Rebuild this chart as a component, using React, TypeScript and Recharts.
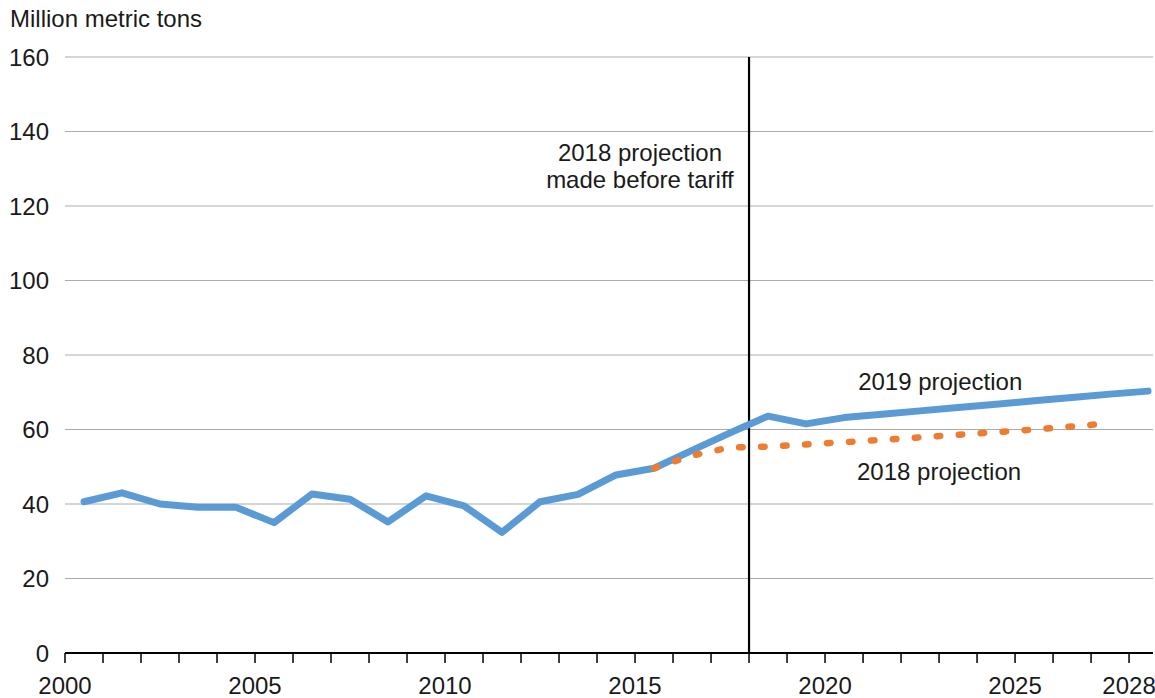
import {
  LineChart,
  Line,
  XAxis,
  YAxis,
  CartesianGrid,
  ReferenceLine,
  ReferenceDot,
} from "recharts";

const YEARS = [
  2000, 2001, 2002, 2003, 2004, 2005, 2006, 2007, 2008, 2009, 2010, 2011, 2012,
  2013, 2014, 2015, 2016, 2017, 2018, 2019, 2020, 2021, 2022, 2023, 2024, 2025,
  2026, 2027, 2028,
];

// 2019 projection (history + projection)
const PROJ_2019 = [
  40.6, 43.0, 40.0, 39.1, 39.1, 35.0, 42.7, 41.3, 35.2, 42.2, 39.5, 32.4, 40.6,
  42.6, 47.8, 49.6, 54.4, 59.1, 63.6, 61.5, 63.2, 64.1, 65.0, 65.9, 66.8, 67.7,
  68.6, 69.5, 70.3,
];

// 2018 projection made before tariff
const PROJ_2018 = [
  null, null, null, null, null, null, null, null, null, null, null, null, null,
  null, null, 49.6, 53.0, 55.2, 55.4, 56.0, 56.6, 57.2, 57.9, 58.6, 59.3, 60.0,
  60.8, 61.7, null,
];

const X_TICKS = YEARS;
const X_LABELS = [2000, 2005, 2010, 2015, 2020, 2025, 2028];
const Y_TICKS = [0, 20, 40, 60, 80, 100, 120, 140, 160];

const FONT = '"Liberation Sans", Arial, Helvetica, sans-serif';
const TEXT = "#1a1a1a";
const FS = 24;

// points sit in the middle of each year slot
const chartData = YEARS.map((year, i) => ({
  x: year + 0.5,
  p2019: PROJ_2019[i],
  p2018: PROJ_2018[i],
}));

function textLabel(lines: string[], lineHeight = 27) {
  return (props: any) => {
    const vb = props.viewBox || {};
    const cx = vb.x + (vb.width || 0) / 2;
    const cy = vb.y + (vb.height || 0) / 2;
    const top = cy - ((lines.length - 1) * lineHeight) / 2;
    return (
      <text
        x={cx}
        y={top}
        textAnchor="middle"
        dominantBaseline="central"
        fontFamily={FONT}
        fontSize={FS}
        fill={TEXT}
      >
        {lines.map((l, i) => (
          <tspan key={i} x={cx} y={top + i * lineHeight}>
            {l}
          </tspan>
        ))}
      </text>
    );
  };
}

export default function App() {
  return (
    <div
      style={{
        position: "absolute",
        left: 0,
        top: 0,
        width: 1155,
        height: 698,
        background: "#fff",
        fontFamily: FONT,
      }}
    >
      <div
        style={{
          position: "absolute",
          left: 10,
          top: 5,
          fontSize: FS,
          color: TEXT,
          lineHeight: "28px",
        }}
      >
        Million metric tons
      </div>
      <LineChart
        width={1155}
        height={698}
        data={chartData}
        margin={{ top: 57, right: 2, left: 0, bottom: 0 }}
      >
        <CartesianGrid vertical={false} stroke="#ababab" strokeWidth={1} />
        <XAxis
          dataKey="x"
          type="number"
          domain={[2000, 2028.63]}
          ticks={X_TICKS}
          interval={0}
          allowDataOverflow
          height={45}
          axisLine={{ stroke: "#000", strokeWidth: 2 }}
          tickLine={{ stroke: "#000", strokeWidth: 1.5 }}
          tickSize={10}
          tickMargin={14}
          tickFormatter={(v: number) => (X_LABELS.includes(v) ? String(v) : "")}
          tick={{ fill: TEXT, fontSize: FS, fontFamily: FONT }}
        />
        <YAxis
          domain={[0, 160]}
          ticks={Y_TICKS}
          width={65}
          axisLine={false}
          tickLine={false}
          tickSize={0}
          tickMargin={16}
          tick={{ fill: TEXT, fontSize: FS, fontFamily: FONT }}
        />
        <ReferenceLine x={2018} stroke="#000" strokeWidth={2.2} />
        <Line
          dataKey="p2019"
          type="linear"
          stroke="#5b9bd5"
          strokeWidth={7}
          strokeLinecap="round"
          strokeLinejoin="round"
          dot={false}
          activeDot={false}
          isAnimationActive={false}
        />
        <Line
          dataKey="p2018"
          type="linear"
          stroke="#ed7d31"
          strokeWidth={6.5}
          strokeDasharray="3.5 18.5"
          strokeLinecap="round"
          strokeLinejoin="round"
          dot={false}
          activeDot={false}
          connectNulls={false}
          isAnimationActive={false}
        />
        <ReferenceDot
          x={2015.13}
          y={130.8}
          r={0}
          fill="none"
          stroke="none"
          label={{
            content: textLabel(["2018 projection", "made before tariff"]),
          }}
        />
        <ReferenceDot
          x={2023.03}
          y={73}
          r={0}
          fill="none"
          stroke="none"
          label={{ content: textLabel(["2019 projection"]) }}
        />
        <ReferenceDot
          x={2023.0}
          y={48.8}
          r={0}
          fill="none"
          stroke="none"
          label={{ content: textLabel(["2018 projection"]) }}
        />
      </LineChart>
    </div>
  );
}
